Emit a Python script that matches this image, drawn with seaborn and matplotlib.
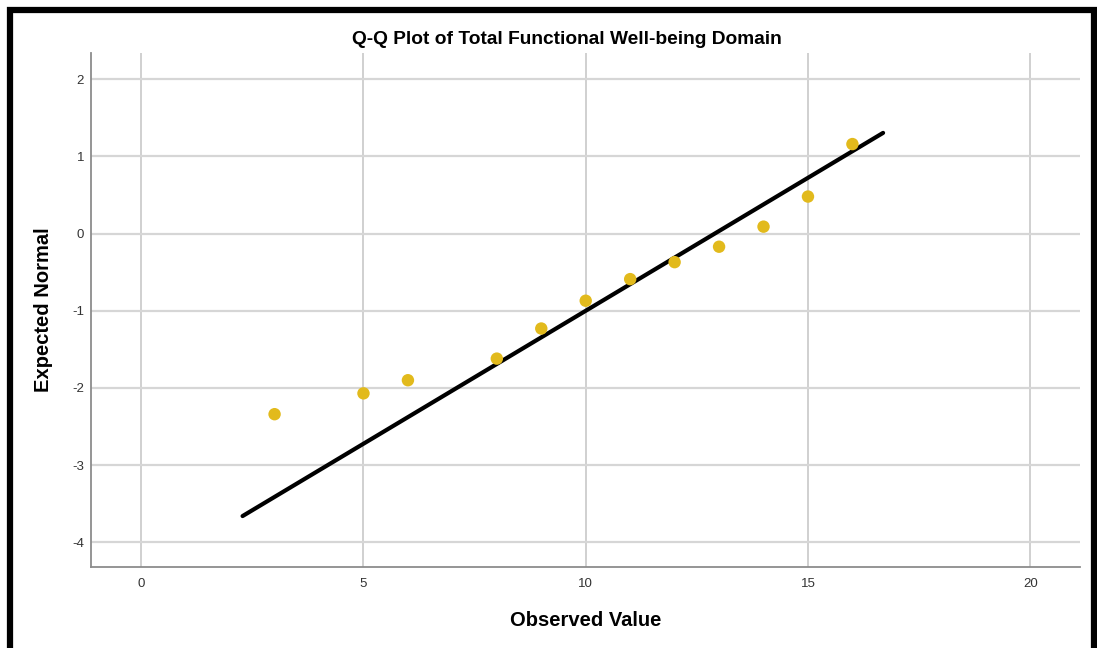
import matplotlib
matplotlib.use("Agg")
import matplotlib.pyplot as plt
import seaborn as sns
import pandas as pd
from matplotlib.patches import Rectangle

observed = [3, 5, 6, 8, 9, 10, 11, 12, 13, 14, 15, 16]
expected = [-2.34, -2.07, -1.90, -1.62, -1.23, -0.87, -0.59, -0.37, -0.17, 0.09, 0.48, 1.16]

# 参考线的两个端点
line_x = [2.28, 16.69]
line_y = [-3.66, 1.305]

x_ticks = [0, 5, 10, 15, 20]
y_ticks = [-4, -3, -2, -1, 0, 1, 2]

sns.set_style("white")
plt.rcParams['font.family'] = ['Liberation Sans', 'DejaVu Sans']
plt.rcParams['axes.unicode_minus'] = False

fig = plt.figure(figsize=(10.97, 6.48), dpi=100)
ax = fig.add_axes([91 / 1097, 1 - 567 / 648, (1080 - 91) / 1097, (567 - 53) / 648])

df = pd.DataFrame({'Observed Value': observed, 'Expected Normal': expected})
line_df = pd.DataFrame({'x': line_x, 'y': line_y})

sns.lineplot(data=line_df, x='x', y='y', color='black', linewidth=3, ax=ax, zorder=3)
sns.scatterplot(data=df, x='Observed Value', y='Expected Normal', color='#E2BA1C',
                s=80, edgecolor='none', ax=ax, zorder=4)

ax.set_xlim(-1.13, 21.12)
ax.set_ylim(-4.32, 2.34)
ax.set_xticks(x_ticks)
ax.set_yticks(y_ticks)
ax.tick_params(length=0, labelsize=9.5, colors='#333333')
ax.tick_params(axis='x', pad=8)
ax.tick_params(axis='y', pad=5)
ax.set_axisbelow(True)
ax.xaxis.grid(True, color='#c4c4c4', linewidth=1.1)
ax.yaxis.grid(True, color='#d6d6d6', linewidth=1.6)
for side in ['top', 'right']:
    ax.spines[side].set_visible(False)
for side in ['left', 'bottom']:
    ax.spines[side].set_color('#8c8c8c')
    ax.spines[side].set_linewidth(1.3)
ax.set_xlabel('')
ax.set_ylabel('')

fig.text(567 / 1097, 1 - 40 / 648, 'Q-Q Plot of Total Functional Well-being Domain',
         ha='center', va='center', fontsize=13.8, fontweight='bold', color='black')
fig.text(586 / 1097, 1 - 620 / 648, 'Observed Value', ha='center', va='center',
         fontsize=14.5, fontweight='bold', color='black')
fig.text(44 / 1097, 1 - 310 / 648, 'Expected Normal', ha='center', va='center',
         rotation=90, fontsize=14.5, fontweight='bold', color='black')

# 外面的黑色边框
fig.patches.append(Rectangle((10 / 1097, -0.05), 1084 / 1097, 1.05 - 10 / 648,
                             transform=fig.transFigure, fill=False,
                             edgecolor='black', linewidth=4.5))

fig.savefig('out.png', dpi=100)
